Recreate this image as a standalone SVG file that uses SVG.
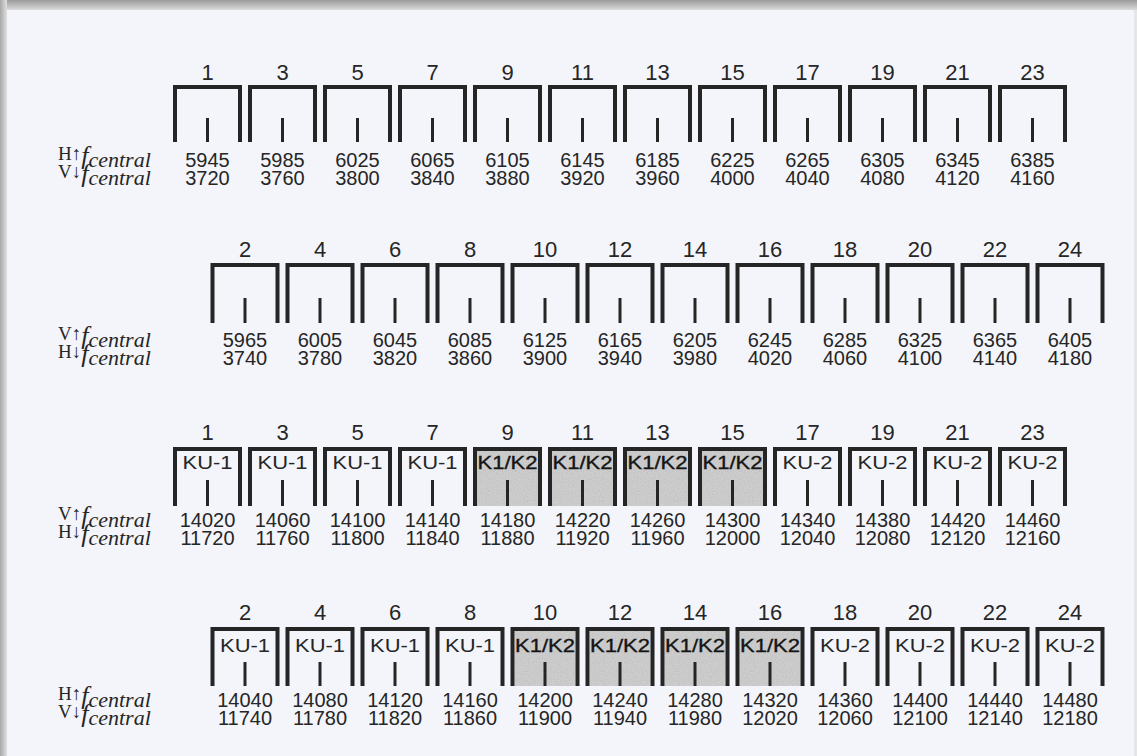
<svg xmlns="http://www.w3.org/2000/svg" width="1137" height="756" viewBox="0 0 1137 756">
<style>
.box{fill:none;stroke:#252525;stroke-width:4;stroke-linejoin:miter}
.tick{stroke:#252525;stroke-width:3}
.shade{fill:#cdcdcd}
text{font-family:"Liberation Sans",Arial,sans-serif;fill:#262626}
.ch{font-size:22px;text-anchor:middle}
.val{font-size:20px;text-anchor:middle}
.ku{font-size:18.5px;text-anchor:middle}
.kk{font-size:18.5px;text-anchor:middle;fill:#151515;stroke:#151515;stroke-width:0.35}
text.lab{font-family:"Liberation Serif","Times New Roman",serif}
</style>
<defs>
<linearGradient id="gt" x1="0" y1="0" x2="0" y2="1"><stop offset="0" stop-color="#9a9a9a"/><stop offset="1" stop-color="#dadada"/></linearGradient>
<linearGradient id="gl" x1="0" y1="0" x2="1" y2="0"><stop offset="0" stop-color="#a8a8a8"/><stop offset="1" stop-color="#e0e0e0"/></linearGradient>
<filter id="grain" x="0" y="0" width="100%" height="100%">
<feTurbulence type="fractalNoise" baseFrequency="0.9" numOctaves="1" seed="4" result="n"/>
<feColorMatrix in="n" type="matrix" values="0 0 0 0 0.45  0 0 0 0 0.45  0 0 0 0 0.45  1.6 0 0 0 -0.7" result="d"/>
<feComposite in="d" in2="SourceGraphic" operator="in" result="dd"/>
<feMerge><feMergeNode in="SourceGraphic"/><feMergeNode in="dd"/></feMerge>
</filter>
<path id="b57" class="box" d="M-32.5,57V2H32.5V57"/>
<path id="b60" class="box" d="M-32.5,60V2H32.5V60"/>
<path id="b59" class="box" d="M-32.5,59V2H32.5V59"/>
<line id="t1" class="tick" x1="0" y1="33" x2="0" y2="57"/>
<line id="t2" class="tick" x1="0" y1="35" x2="0" y2="60"/>
<line id="t3" class="tick" x1="0" y1="33" x2="0" y2="59"/>
<line id="t4" class="tick" x1="0" y1="35" x2="0" y2="59"/>
<rect id="s59" class="shade" x="-30.5" y="4" width="61" height="55" filter="url(#grain)"/>
</defs>
<rect x="0" y="0" width="1137" height="756" fill="#e6e6e6"/>
<rect x="0" y="0" width="1137" height="10" fill="url(#gt)"/>
<rect x="0" y="0" width="7" height="756" fill="url(#gl)"/>
<rect x="7" y="10" width="1127" height="746" fill="#f3f5fa"/>

<g id="labels">
<text class="lab" x="58" y="167"><tspan font-size="19" dy="-7">H↑</tspan><tspan font-size="26" font-style="italic" dy="4">f</tspan><tspan font-size="22" font-style="italic" dy="3">central</tspan></text>
<text class="lab" x="58" y="185"><tspan font-size="19" dy="-7">V↓</tspan><tspan font-size="26" font-style="italic" dy="4">f</tspan><tspan font-size="22" font-style="italic" dy="3">central</tspan></text>
<text class="lab" x="58" y="347"><tspan font-size="19" dy="-7">V↑</tspan><tspan font-size="26" font-style="italic" dy="4">f</tspan><tspan font-size="22" font-style="italic" dy="3">central</tspan></text>
<text class="lab" x="58" y="365"><tspan font-size="19" dy="-7">H↓</tspan><tspan font-size="26" font-style="italic" dy="4">f</tspan><tspan font-size="22" font-style="italic" dy="3">central</tspan></text>
<text class="lab" x="58" y="527"><tspan font-size="19" dy="-7">V↑</tspan><tspan font-size="26" font-style="italic" dy="4">f</tspan><tspan font-size="22" font-style="italic" dy="3">central</tspan></text>
<text class="lab" x="58" y="545"><tspan font-size="19" dy="-7">H↓</tspan><tspan font-size="26" font-style="italic" dy="4">f</tspan><tspan font-size="22" font-style="italic" dy="3">central</tspan></text>
<text class="lab" x="58" y="707"><tspan font-size="19" dy="-7">H↑</tspan><tspan font-size="26" font-style="italic" dy="4">f</tspan><tspan font-size="22" font-style="italic" dy="3">central</tspan></text>
<text class="lab" x="58" y="725"><tspan font-size="19" dy="-7">V↓</tspan><tspan font-size="26" font-style="italic" dy="4">f</tspan><tspan font-size="22" font-style="italic" dy="3">central</tspan></text>
</g>

<g id="connectors"></g>

<!-- Row 1 -->
<g id="r1c1" transform="translate(207.5,85)"><use href="#b57"/><use href="#t1"/><text class="ch" y="-5">1</text><text class="val" y="82">5945</text><text class="val" y="100">3720</text></g>
<g id="r1c3" transform="translate(282.5,85)"><use href="#b57"/><use href="#t1"/><text class="ch" y="-5">3</text><text class="val" y="82">5985</text><text class="val" y="100">3760</text></g>
<g id="r1c5" transform="translate(357.5,85)"><use href="#b57"/><use href="#t1"/><text class="ch" y="-5">5</text><text class="val" y="82">6025</text><text class="val" y="100">3800</text></g>
<g id="r1c7" transform="translate(432.5,85)"><use href="#b57"/><use href="#t1"/><text class="ch" y="-5">7</text><text class="val" y="82">6065</text><text class="val" y="100">3840</text></g>
<g id="r1c9" transform="translate(507.5,85)"><use href="#b57"/><use href="#t1"/><text class="ch" y="-5">9</text><text class="val" y="82">6105</text><text class="val" y="100">3880</text></g>
<g id="r1c11" transform="translate(582.5,85)"><use href="#b57"/><use href="#t1"/><text class="ch" y="-5">11</text><text class="val" y="82">6145</text><text class="val" y="100">3920</text></g>
<g id="r1c13" transform="translate(657.5,85)"><use href="#b57"/><use href="#t1"/><text class="ch" y="-5">13</text><text class="val" y="82">6185</text><text class="val" y="100">3960</text></g>
<g id="r1c15" transform="translate(732.5,85)"><use href="#b57"/><use href="#t1"/><text class="ch" y="-5">15</text><text class="val" y="82">6225</text><text class="val" y="100">4000</text></g>
<g id="r1c17" transform="translate(807.5,85)"><use href="#b57"/><use href="#t1"/><text class="ch" y="-5">17</text><text class="val" y="82">6265</text><text class="val" y="100">4040</text></g>
<g id="r1c19" transform="translate(882.5,85)"><use href="#b57"/><use href="#t1"/><text class="ch" y="-5">19</text><text class="val" y="82">6305</text><text class="val" y="100">4080</text></g>
<g id="r1c21" transform="translate(957.5,85)"><use href="#b57"/><use href="#t1"/><text class="ch" y="-5">21</text><text class="val" y="82">6345</text><text class="val" y="100">4120</text></g>
<g id="r1c23" transform="translate(1032.5,85)"><use href="#b57"/><use href="#t1"/><text class="ch" y="-5">23</text><text class="val" y="82">6385</text><text class="val" y="100">4160</text></g>

<!-- Row 2 -->
<g id="r2c2" transform="translate(245,263)"><use href="#b60"/><use href="#t2"/><text class="ch" y="-6">2</text><text class="val" y="84">5965</text><text class="val" y="102">3740</text></g>
<g id="r2c4" transform="translate(320,263)"><use href="#b60"/><use href="#t2"/><text class="ch" y="-6">4</text><text class="val" y="84">6005</text><text class="val" y="102">3780</text></g>
<g id="r2c6" transform="translate(395,263)"><use href="#b60"/><use href="#t2"/><text class="ch" y="-6">6</text><text class="val" y="84">6045</text><text class="val" y="102">3820</text></g>
<g id="r2c8" transform="translate(470,263)"><use href="#b60"/><use href="#t2"/><text class="ch" y="-6">8</text><text class="val" y="84">6085</text><text class="val" y="102">3860</text></g>
<g id="r2c10" transform="translate(545,263)"><use href="#b60"/><use href="#t2"/><text class="ch" y="-6">10</text><text class="val" y="84">6125</text><text class="val" y="102">3900</text></g>
<g id="r2c12" transform="translate(620,263)"><use href="#b60"/><use href="#t2"/><text class="ch" y="-6">12</text><text class="val" y="84">6165</text><text class="val" y="102">3940</text></g>
<g id="r2c14" transform="translate(695,263)"><use href="#b60"/><use href="#t2"/><text class="ch" y="-6">14</text><text class="val" y="84">6205</text><text class="val" y="102">3980</text></g>
<g id="r2c16" transform="translate(770,263)"><use href="#b60"/><use href="#t2"/><text class="ch" y="-6">16</text><text class="val" y="84">6245</text><text class="val" y="102">4020</text></g>
<g id="r2c18" transform="translate(845,263)"><use href="#b60"/><use href="#t2"/><text class="ch" y="-6">18</text><text class="val" y="84">6285</text><text class="val" y="102">4060</text></g>
<g id="r2c20" transform="translate(920,263)"><use href="#b60"/><use href="#t2"/><text class="ch" y="-6">20</text><text class="val" y="84">6325</text><text class="val" y="102">4100</text></g>
<g id="r2c22" transform="translate(995,263)"><use href="#b60"/><use href="#t2"/><text class="ch" y="-6">22</text><text class="val" y="84">6365</text><text class="val" y="102">4140</text></g>
<g id="r2c24" transform="translate(1070,263)"><use href="#b60"/><use href="#t2"/><text class="ch" y="-6">24</text><text class="val" y="84">6405</text><text class="val" y="102">4180</text></g>

<!-- Row 3 -->
<g id="r3c1" transform="translate(207.5,447)"><use href="#b59"/><use href="#t3"/><text class="ch" y="-7">1</text><text class="ku" y="22" x="0" textLength="50" lengthAdjust="spacingAndGlyphs">KU-1</text><text class="val" y="80">14020</text><text class="val" y="98">11720</text></g>
<g id="r3c3" transform="translate(282.5,447)"><use href="#b59"/><use href="#t3"/><text class="ch" y="-7">3</text><text class="ku" y="22" x="0" textLength="50" lengthAdjust="spacingAndGlyphs">KU-1</text><text class="val" y="80">14060</text><text class="val" y="98">11760</text></g>
<g id="r3c5" transform="translate(357.5,447)"><use href="#b59"/><use href="#t3"/><text class="ch" y="-7">5</text><text class="ku" y="22" x="0" textLength="50" lengthAdjust="spacingAndGlyphs">KU-1</text><text class="val" y="80">14100</text><text class="val" y="98">11800</text></g>
<g id="r3c7" transform="translate(432.5,447)"><use href="#b59"/><use href="#t3"/><text class="ch" y="-7">7</text><text class="ku" y="22" x="0" textLength="50" lengthAdjust="spacingAndGlyphs">KU-1</text><text class="val" y="80">14140</text><text class="val" y="98">11840</text></g>
<g id="r3c9" transform="translate(507.5,447)"><use href="#s59"/><use href="#b59"/><use href="#t3"/><text class="ch" y="-7">9</text><text class="kk" y="22" x="0" textLength="60" lengthAdjust="spacingAndGlyphs">K1/K2</text><text class="val" y="80">14180</text><text class="val" y="98">11880</text></g>
<g id="r3c11" transform="translate(582.5,447)"><use href="#s59"/><use href="#b59"/><use href="#t3"/><text class="ch" y="-7">11</text><text class="kk" y="22" x="0" textLength="60" lengthAdjust="spacingAndGlyphs">K1/K2</text><text class="val" y="80">14220</text><text class="val" y="98">11920</text></g>
<g id="r3c13" transform="translate(657.5,447)"><use href="#s59"/><use href="#b59"/><use href="#t3"/><text class="ch" y="-7">13</text><text class="kk" y="22" x="0" textLength="60" lengthAdjust="spacingAndGlyphs">K1/K2</text><text class="val" y="80">14260</text><text class="val" y="98">11960</text></g>
<g id="r3c15" transform="translate(732.5,447)"><use href="#s59"/><use href="#b59"/><use href="#t3"/><text class="ch" y="-7">15</text><text class="kk" y="22" x="0" textLength="60" lengthAdjust="spacingAndGlyphs">K1/K2</text><text class="val" y="80">14300</text><text class="val" y="98">12000</text></g>
<g id="r3c17" transform="translate(807.5,447)"><use href="#b59"/><use href="#t3"/><text class="ch" y="-7">17</text><text class="ku" y="22" x="0" textLength="50" lengthAdjust="spacingAndGlyphs">KU-2</text><text class="val" y="80">14340</text><text class="val" y="98">12040</text></g>
<g id="r3c19" transform="translate(882.5,447)"><use href="#b59"/><use href="#t3"/><text class="ch" y="-7">19</text><text class="ku" y="22" x="0" textLength="50" lengthAdjust="spacingAndGlyphs">KU-2</text><text class="val" y="80">14380</text><text class="val" y="98">12080</text></g>
<g id="r3c21" transform="translate(957.5,447)"><use href="#b59"/><use href="#t3"/><text class="ch" y="-7">21</text><text class="ku" y="22" x="0" textLength="50" lengthAdjust="spacingAndGlyphs">KU-2</text><text class="val" y="80">14420</text><text class="val" y="98">12120</text></g>
<g id="r3c23" transform="translate(1032.5,447)"><use href="#b59"/><use href="#t3"/><text class="ch" y="-7">23</text><text class="ku" y="22" x="0" textLength="50" lengthAdjust="spacingAndGlyphs">KU-2</text><text class="val" y="80">14460</text><text class="val" y="98">12160</text></g>

<!-- Row 4 -->
<g id="r4c2" transform="translate(245,627)"><use href="#b59"/><use href="#t4"/><text class="ch" y="-7">2</text><text class="ku" y="25" x="0" textLength="50" lengthAdjust="spacingAndGlyphs">KU-1</text><text class="val" y="80">14040</text><text class="val" y="98">11740</text></g>
<g id="r4c4" transform="translate(320,627)"><use href="#b59"/><use href="#t4"/><text class="ch" y="-7">4</text><text class="ku" y="25" x="0" textLength="50" lengthAdjust="spacingAndGlyphs">KU-1</text><text class="val" y="80">14080</text><text class="val" y="98">11780</text></g>
<g id="r4c6" transform="translate(395,627)"><use href="#b59"/><use href="#t4"/><text class="ch" y="-7">6</text><text class="ku" y="25" x="0" textLength="50" lengthAdjust="spacingAndGlyphs">KU-1</text><text class="val" y="80">14120</text><text class="val" y="98">11820</text></g>
<g id="r4c8" transform="translate(470,627)"><use href="#b59"/><use href="#t4"/><text class="ch" y="-7">8</text><text class="ku" y="25" x="0" textLength="50" lengthAdjust="spacingAndGlyphs">KU-1</text><text class="val" y="80">14160</text><text class="val" y="98">11860</text></g>
<g id="r4c10" transform="translate(545,627)"><use href="#s59"/><use href="#b59"/><use href="#t4"/><text class="ch" y="-7">10</text><text class="kk" y="25" x="0" textLength="60" lengthAdjust="spacingAndGlyphs">K1/K2</text><text class="val" y="80">14200</text><text class="val" y="98">11900</text></g>
<g id="r4c12" transform="translate(620,627)"><use href="#s59"/><use href="#b59"/><use href="#t4"/><text class="ch" y="-7">12</text><text class="kk" y="25" x="0" textLength="60" lengthAdjust="spacingAndGlyphs">K1/K2</text><text class="val" y="80">14240</text><text class="val" y="98">11940</text></g>
<g id="r4c14" transform="translate(695,627)"><use href="#s59"/><use href="#b59"/><use href="#t4"/><text class="ch" y="-7">14</text><text class="kk" y="25" x="0" textLength="60" lengthAdjust="spacingAndGlyphs">K1/K2</text><text class="val" y="80">14280</text><text class="val" y="98">11980</text></g>
<g id="r4c16" transform="translate(770,627)"><use href="#s59"/><use href="#b59"/><use href="#t4"/><text class="ch" y="-7">16</text><text class="kk" y="25" x="0" textLength="60" lengthAdjust="spacingAndGlyphs">K1/K2</text><text class="val" y="80">14320</text><text class="val" y="98">12020</text></g>
<g id="r4c18" transform="translate(845,627)"><use href="#b59"/><use href="#t4"/><text class="ch" y="-7">18</text><text class="ku" y="25" x="0" textLength="50" lengthAdjust="spacingAndGlyphs">KU-2</text><text class="val" y="80">14360</text><text class="val" y="98">12060</text></g>
<g id="r4c20" transform="translate(920,627)"><use href="#b59"/><use href="#t4"/><text class="ch" y="-7">20</text><text class="ku" y="25" x="0" textLength="50" lengthAdjust="spacingAndGlyphs">KU-2</text><text class="val" y="80">14400</text><text class="val" y="98">12100</text></g>
<g id="r4c22" transform="translate(995,627)"><use href="#b59"/><use href="#t4"/><text class="ch" y="-7">22</text><text class="ku" y="25" x="0" textLength="50" lengthAdjust="spacingAndGlyphs">KU-2</text><text class="val" y="80">14440</text><text class="val" y="98">12140</text></g>
<g id="r4c24" transform="translate(1070,627)"><use href="#b59"/><use href="#t4"/><text class="ch" y="-7">24</text><text class="ku" y="25" x="0" textLength="50" lengthAdjust="spacingAndGlyphs">KU-2</text><text class="val" y="80">14480</text><text class="val" y="98">12180</text></g>
</svg>
